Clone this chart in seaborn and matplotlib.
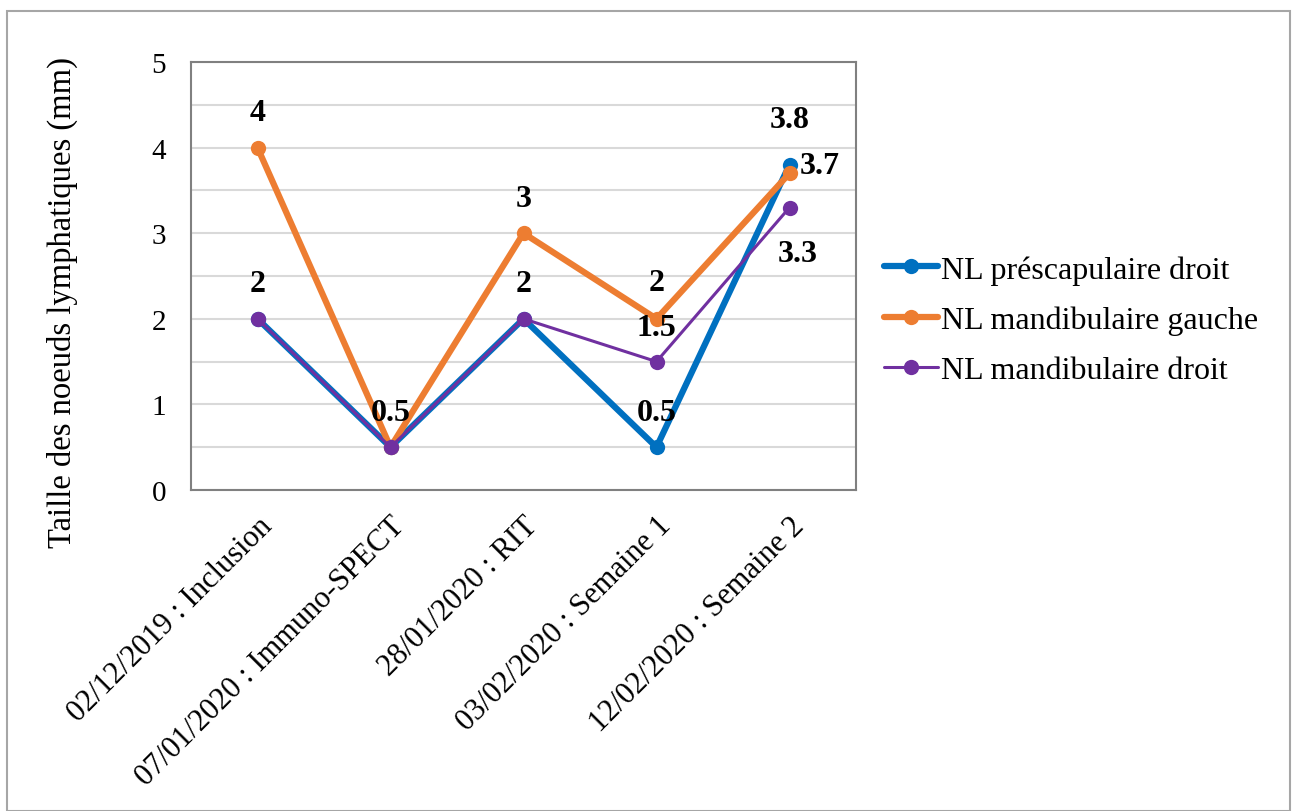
import matplotlib
matplotlib.use("Agg")
import matplotlib.pyplot as plt
import seaborn as sns
import pandas as pd
from matplotlib.patches import Rectangle

# données
categories = ["02/12/2019 : Inclusion", "07/01/2020 : Immuno-SPECT",
              "28/01/2020 : RIT", "03/02/2020 : Semaine 1", "12/02/2020 : Semaine 2"]
series_names = ["NL préscapulaire droit", "NL mandibulaire gauche", "NL mandibulaire droit"]
presc_droit = [2, 0.5, 2, 0.5, 3.8]
mand_gauche = [4, 0.5, 3, 2, 3.7]
mand_droit = [2, 0.5, 2, 1.5, 3.3]
yticks = [0, 1, 2, 3, 4, 5]

colors = ["#0070C0", "#ED7D31", "#7030A0"]
widths = [4.5, 4.5, 2.2]

rows = []
for name, vals in zip(series_names, [presc_droit, mand_gauche, mand_droit]):
    for i, v in enumerate(vals):
        rows.append({"serie": name, "pos": i, "cat": categories[i], "val": v})
df = pd.DataFrame(rows)

sns.set_theme(style="white")
plt.rcParams["font.family"] = ["Liberation Serif", "DejaVu Serif"]
plt.rcParams["text.color"] = "black"
plt.rcParams["xtick.color"] = "black"
plt.rcParams["ytick.color"] = "black"
plt.rcParams["axes.labelcolor"] = "black"

fig = plt.figure(figsize=(12.95, 8.12), dpi=100)
ax = fig.add_axes([191 / 1295, 1 - 491 / 812, 665 / 1295, 428 / 812])

for name, c, w in zip(series_names, colors, widths):
    sns.lineplot(data=df[df["serie"] == name], x="pos", y="val", ax=ax,
                 color=c, linewidth=w, marker="o", markersize=11,
                 markeredgewidth=0, label=name, sort=False)

# étiquettes de données (série, point, décalage en pixels)
labels = [
    (0, 3, 0, 35), (0, 4, 0, 45),
    (1, 0, 0, 35), (1, 1, 0, 35), (1, 2, 0, 35), (1, 3, 0, 36), (1, 4, 30, 8),
    (2, 0, 0, 35), (2, 2, 0, 35), (2, 3, 0, 34), (2, 4, 8, -46),
]
all_vals = [presc_droit, mand_gauche, mand_droit]
for s, i, dx, dy in labels:
    v = all_vals[s][i]
    ax.annotate(f"{v:g}", (i, v), xytext=(dx, dy), textcoords="offset pixels",
                ha="center", va="center", fontsize=23, fontweight="bold", color="black")

ax.set_xlim(-0.5, 4.5)
ax.set_ylim(0, 5)
ax.set_yticks(yticks)
ax.set_yticks([0.5, 1.5, 2.5, 3.5, 4.5], minor=True)
ax.set_xticks(range(len(categories)))
ax.set_xticklabels(categories, rotation=45, ha="right", rotation_mode="anchor", fontsize=22)
ax.tick_params(axis="y", labelsize=21, length=0, pad=18)
ax.tick_params(axis="x", length=0, pad=15)
ax.grid(True, which="both", axis="y", color="#D9D9D9", linewidth=1.5)
ax.set_axisbelow(True)
for sp in ax.spines.values():
    sp.set_color("#808080")
    sp.set_linewidth(1.5)
ax.set_xlabel("")
ax.set_ylabel("Taille des noeuds lymphatiques (mm)", fontsize=23.5)
ax.yaxis.set_label_coords(-0.17, 0.44)

ax.legend(loc="center left", bbox_to_anchor=(868 / 1295, 1 - 321 / 812),
          bbox_transform=fig.transFigure, frameon=False, fontsize=23,
          handlelength=1.7, handletextpad=0.1, labelspacing=0.65, borderpad=0)

fig.patches.append(Rectangle((7 / 1295, 0), 1283 / 1295, 1 - 12 / 812, transform=fig.transFigure,
                             fill=False, edgecolor="#A6A6A6", linewidth=1.5))

fig.savefig("out.png", dpi=100)
